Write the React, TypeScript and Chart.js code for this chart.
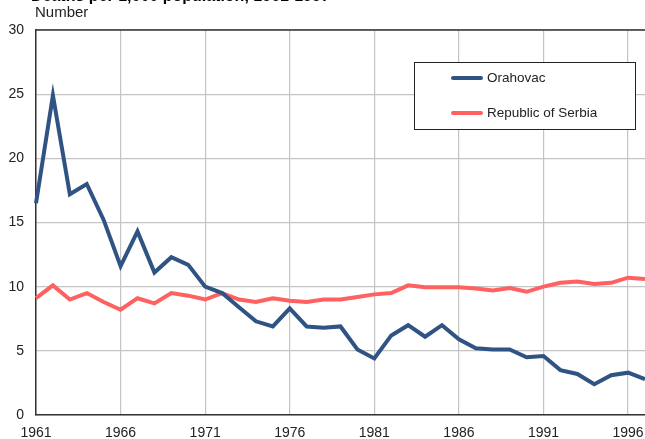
import React, { useEffect, useRef } from "react";
import { Chart, registerables } from "chart.js";

Chart.register(...registerables);

const years: string[] = [];
for (let y = 1961; y <= 1997; y++) years.push(String(y));

const orahovac = [
  16.5, 24.9, 17.2, 18.0, 15.2, 11.6, 14.3, 11.1, 12.3, 11.7,
  10.0, 9.5, 8.4, 7.3, 6.9, 8.3, 6.9, 6.8, 6.9, 5.1,
  4.4, 6.2, 7.0, 6.1, 7.0, 5.9, 5.2, 5.1, 5.1, 4.5,
  4.6, 3.5, 3.2, 2.4, 3.1, 3.3, 2.8,
];

const serbia = [
  9.1, 10.1, 9.0, 9.5, 8.8, 8.2, 9.1, 8.7, 9.5, 9.3,
  9.0, 9.5, 9.0, 8.8, 9.1, 8.9, 8.8, 9.0, 9.0, 9.2,
  9.4, 9.5, 10.1, 9.95, 9.95, 9.95, 9.85, 9.7, 9.9, 9.6,
  10.0, 10.3, 10.4, 10.2, 10.3, 10.7, 10.6,
];

const seriesNames = ["Orahovac", "Republic of Serbia"];
const seriesColors = ["#2F5383", "#FF6060"];
const titleText = "Deaths per 1,000 population, 1961-1997";
const yAxisTitle = "Number";

const FONT = "Arial, 'Liberation Sans', sans-serif";

const overlayPlugin = {
  id: "overlay",
  afterDraw(chart: any) {
    const ctx = chart.ctx as CanvasRenderingContext2D;
    const area = chart.chartArea;
    ctx.save();
    // top border
    ctx.strokeStyle = "#333";
    ctx.lineWidth = 1.5;
    ctx.beginPath();
    ctx.moveTo(area.left, area.top);
    ctx.lineTo(area.right, area.top);
    ctx.stroke();

    // title (cut off at top)
    ctx.fillStyle = "#000";
    ctx.font = "bold 16px " + FONT;
    ctx.textBaseline = "alphabetic";
    ctx.textAlign = "left";
    ctx.fillText(titleText, 31, 1);

    // y-axis title
    ctx.font = "15px " + FONT;
    ctx.fillStyle = "#222";
    ctx.textBaseline = "middle";
    ctx.fillText(yAxisTitle, 35, 13);

    // legend
    const bx = 414.5, by = 62.5, bw = 221, bh = 67;
    ctx.fillStyle = "#fff";
    ctx.fillRect(bx, by, bw, bh);
    ctx.strokeStyle = "#222";
    ctx.lineWidth = 1;
    ctx.strokeRect(bx, by, bw, bh);
    const rows = [78, 113];
    chart.data.datasets.forEach((ds: any, i: number) => {
      const y = rows[i];
      ctx.strokeStyle = ds.borderColor;
      ctx.lineWidth = 4;
      ctx.lineCap = "round";
      ctx.beginPath();
      ctx.moveTo(453, y);
      ctx.lineTo(481, y);
      ctx.stroke();
      ctx.fillStyle = "#222";
      ctx.font = "13.5px " + FONT;
      ctx.textBaseline = "middle";
      ctx.fillText(ds.label, 487, y);
    });
    ctx.restore();
  },
};

export default function App() {
  const ref = useRef<HTMLCanvasElement | null>(null);

  useEffect(() => {
    document.body.style.margin = "0";
    const canvas = ref.current;
    if (!canvas) return;
    const chart = new Chart(canvas, {
      type: "line",
      data: {
        labels: years,
        datasets: [
          {
            label: seriesNames[0],
            data: orahovac,
            borderColor: seriesColors[0],
            backgroundColor: seriesColors[0],
            borderWidth: 4,
            pointRadius: 0,
            tension: 0,
          },
          {
            label: seriesNames[1],
            data: serbia,
            borderColor: seriesColors[1],
            backgroundColor: seriesColors[1],
            borderWidth: 4,
            pointRadius: 0,
            tension: 0,
          },
        ],
      },
      options: {
        animation: false,
        responsive: false,
        maintainAspectRatio: false,
        layout: { padding: { top: 30, right: 0, left: 0, bottom: 0 } },
        plugins: {
          legend: { display: false },
          tooltip: { enabled: false },
          title: { display: false },
        },
        scales: {
          x: {
            type: "category",
            offset: false,
            afterFit: (s: any) => {
              s.height = 24;
              s.paddingLeft = 0;
              s.paddingRight = 0;
            },
            grid: {
              color: (c: any) => (c.index % 5 === 0 ? "#c4c4c4" : "rgba(0,0,0,0)"),
              lineWidth: 1.2,
              drawTicks: false,
            },
            border: { display: true, color: "#333", width: 1.5 },
            ticks: {
              autoSkip: false,
              maxRotation: 0,
              minRotation: 0,
              padding: 10,
              color: "#222",
              font: { family: FONT, size: 14 },
              callback: (_v: any, idx: number) => (idx % 5 === 0 ? years[idx] : ""),
            },
          },
          y: {
            min: 0,
            max: 30,
            afterFit: (s: any) => {
              s.width = 36;
              s.paddingTop = 0;
              s.paddingBottom = 0;
            },
            grid: { color: "#c4c4c4", lineWidth: 1.2, drawTicks: false },
            border: { display: true, color: "#333", width: 1.5 },
            ticks: {
              stepSize: 5,
              padding: 12,
              color: "#222",
              font: { family: FONT, size: 14 },
            },
          },
        },
      },
      plugins: [overlayPlugin],
    });
    return () => chart.destroy();
  }, []);

  return (
    <div style={{ width: 645, height: 439 }}>
      <canvas ref={ref} width={645} height={439} style={{ display: "block" }} />
    </div>
  );
}
